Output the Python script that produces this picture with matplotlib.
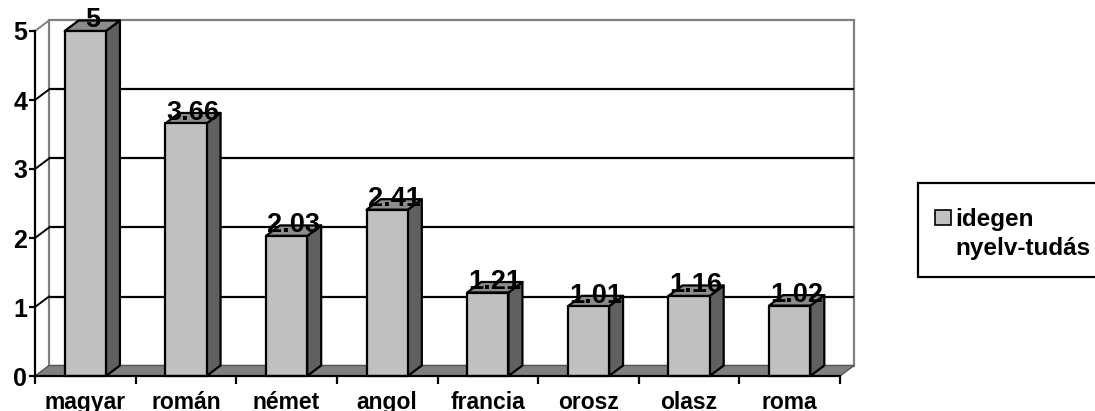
import matplotlib.pyplot as plt
from matplotlib.patches import Polygon, Rectangle

plt.rcParams['font.family'] = ['Liberation Sans', 'DejaVu Sans']
plt.rcParams['font.weight'] = 'bold'

languages = ['magyar', 'román', 'német', 'angol', 'francia', 'orosz', 'olasz', 'roma']
scores = [5, 3.66, 2.03, 2.41, 1.21, 1.01, 1.16, 1.02]
value_labels = ['5', '3.66', '2.03', '2.41', '1.21', '1.01', '1.16', '1.02']
series_name = 'idegen\nnyelv-tudás'
yticks = [0, 1, 2, 3, 4, 5]

W, H = 1095, 411
fig = plt.figure(figsize=(W / 100, H / 100), dpi=100)
ax = fig.add_axes([35 / W, 35 / H, 805 / W, 345 / H])
ax.set_xlim(-0.5, len(languages) - 0.5)
ax.set_ylim(0, 5)
ax.patch.set_visible(False)

# depth of the pseudo-3D box, converted from pixels into data units
depth_px = (14, 10.5)
dx = depth_px[0] * (ax.get_xlim()[1] - ax.get_xlim()[0]) / 805
dy = depth_px[1] * (ax.get_ylim()[1] - ax.get_ylim()[0]) / 345

x0, x1 = ax.get_xlim()
top = ax.get_ylim()[1]
wall_col = '#808080'

# back wall and floor
ax.add_patch(Polygon([(x0 + dx, dy), (x0 + dx, top + dy), (x1 + dx, top + dy), (x1 + dx, dy)],
                     closed=True, facecolor='white', edgecolor=wall_col, lw=1.6,
                     clip_on=False, zorder=0.5))
ax.add_patch(Polygon([(x0, 0), (x1, 0), (x1 + dx, dy), (x0 + dx, dy)],
                     closed=True, facecolor=wall_col, edgecolor='#555555', lw=1.0,
                     clip_on=False, zorder=0.8))

# gridlines on the back wall with their slanted left ends
for v in yticks[1:]:
    c = 'black' if v < top else wall_col
    if v < top:
        ax.plot([x0 + dx, x1 + dx], [v + dy, v + dy], color='black', lw=1.6,
                clip_on=False, zorder=0.7, solid_capstyle='butt')
    ax.plot([x0, x0 + dx], [v, v + dy], color=c, lw=1.4, clip_on=False, zorder=0.7)

# 3D columns
bw = 0.41
for i, v in enumerate(scores):
    l, r = i - bw / 2, i + bw / 2
    ax.add_patch(Polygon([(r, 0), (r + dx, dy), (r + dx, v + dy), (r, v)],
                         closed=True, facecolor='#606060', edgecolor='black', lw=1.6,
                         clip_on=False, zorder=2, joinstyle='round'))
    ax.add_patch(Polygon([(l, v), (r, v), (r + dx, v + dy), (l + dx, v + dy)],
                         closed=True, facecolor='#8c8c8c', edgecolor='black', lw=1.6,
                         clip_on=False, zorder=2, joinstyle='round'))
    ax.add_patch(Rectangle((l, 0), bw, v, facecolor='#c0c0c0', edgecolor='black', lw=1.6,
                           clip_on=False, zorder=3, joinstyle='round'))
    ax.text(i + dx / 2, v + 0.35 * dy, value_labels[i], ha='center', va='baseline',
            fontsize=19.5, fontweight='bold', zorder=5)

# axes
for side in ('top', 'right'):
    ax.spines[side].set_visible(False)
for side in ('left', 'bottom'):
    ax.spines[side].set_linewidth(1.6)
    ax.spines[side].set_zorder(4)

ax.set_yticks(yticks)
ax.set_yticklabels([str(t) for t in yticks], fontsize=18, fontweight='bold')
ax.tick_params(axis='y', direction='out', length=4, width=1.6, pad=1.5)

ax.set_xticks([k - 0.5 for k in range(len(languages) + 1)])
ax.set_xticklabels([])
ax.set_xticks(range(len(languages)), minor=True)
ax.set_xticklabels(languages, minor=True, fontsize=16.5, fontweight='bold')
ax.tick_params(axis='x', which='major', direction='out', length=6, width=1.6)
ax.tick_params(axis='x', which='minor', length=0, pad=11)

# legend box, its right side runs off the canvas
fig.patches.append(Rectangle((918 / W, (H - 277) / H), 200 / W, 94 / H,
                             transform=fig.transFigure, facecolor='white',
                             edgecolor='black', lw=1.6))
fig.patches.append(Rectangle((935 / W, (H - 225) / H), 16 / W, 15 / H,
                             transform=fig.transFigure, facecolor='#c0c0c0',
                             edgecolor='black', lw=1.2))
first, second = series_name.split('\n')
fig.text(955 / W, (H - 226) / H, first, fontsize=17.5, fontweight='bold', va='baseline')
fig.text(955 / W, (H - 255) / H, second, fontsize=17.5, fontweight='bold', va='baseline')

fig.savefig('out.png', dpi=100)
